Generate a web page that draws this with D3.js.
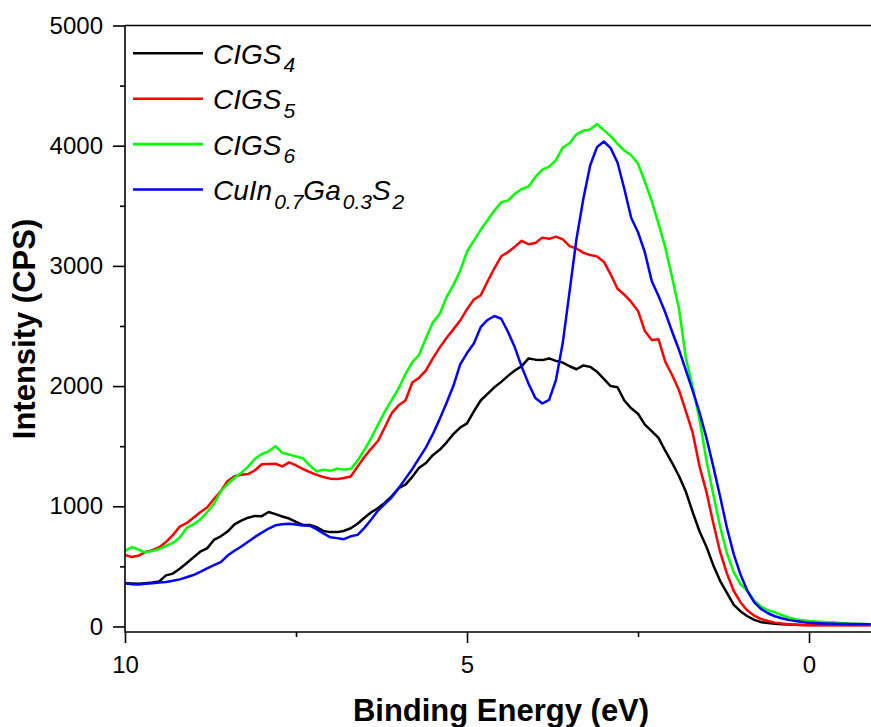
<!DOCTYPE html>
<html><head><meta charset="utf-8">
<script src="https://cdn.jsdelivr.net/npm/d3@7"></script>
<style>
body{margin:0;background:#fff}
svg{display:block}
text{font-family:"Liberation Sans",Arial,sans-serif;fill:#000}
</style>
</head><body>
<svg id="chart" width="871" height="727"></svg>
<script>
// ---- data ----
const energy = [
 10.0,9.9,9.8,9.7,9.6,9.5,9.4,9.3,9.2,9.1,
 9.0,8.9,8.8,8.7,8.6,8.5,8.4,8.3,8.2,8.1,
 8.0,7.9,7.8,7.7,7.6,7.5,7.4,7.3,7.2,7.1,
 7.0,6.9,6.8,6.7,6.6,6.5,6.4,6.3,6.2,6.1,
 6.0,5.9,5.8,5.7,5.6,5.5,5.4,5.3,5.2,5.1,
 5.0,4.9,4.8,4.7,4.6,4.5,4.4,4.3,4.2,4.1,
 4.0,3.9,3.8,3.7,3.6,3.5,3.4,3.3,3.2,3.1,
 3.0,2.9,2.8,2.7,2.6,2.5,2.4,2.3,2.2,2.1,
 2.0,1.9,1.8,1.7,1.6,1.5,1.4,1.3,1.2,1.1,
 1.0,0.9,0.8,0.7,0.6,0.5,0.4,0.3,0.2,0.1,
 0.0,-0.2,-0.4,-0.6,-0.9
];
const cigs4 = [
 360,358,356,360,365,375,425,440,480,526,
 575,622,650,720,750,790,850,880,905,920,
 918,952,935,915,898,870,845,845,826,795,
 785,785,795,817,855,905,950,985,1030,1085,
 1150,1180,1245,1320,1360,1425,1470,1530,1600,1655,
 1690,1790,1880,1935,1990,2035,2085,2130,2166,2230,
 2220,2216,2230,2210,2195,2165,2140,2172,2160,2120,
 2060,2000,1990,1880,1815,1770,1680,1625,1569,1460,
 1360,1250,1120,950,790,664,510,380,280,180,
 125,85,55,36,28,22,19,16,14,13,
 12,12,12,12,12
];
const cigs5 = [
 595,578,590,620,635,660,703,760,831,859,
 905,950,990,1060,1125,1210,1250,1263,1268,1300,
 1350,1352,1354,1332,1365,1340,1310,1285,1262,1243,
 1230,1226,1235,1248,1330,1410,1480,1545,1660,1775,
 1840,1880,2030,2070,2130,2230,2320,2400,2472,2545,
 2640,2720,2755,2870,2980,3080,3115,3160,3209,3180,
 3190,3235,3225,3243,3220,3165,3145,3110,3090,3079,
 3035,2930,2810,2760,2700,2625,2458,2383,2389,2200,
 2090,1965,1790,1610,1330,1120,860,620,440,295,
 200,132,90,62,45,32,24,18,15,12,
 11,10,10,10,10
];
const cigs6 = [
 628,660,640,617,628,645,670,695,740,820,
 850,890,950,1020,1123,1185,1235,1280,1330,1395,
 1435,1457,1500,1445,1430,1415,1400,1340,1290,1305,
 1295,1312,1305,1310,1380,1470,1570,1680,1790,1885,
 1980,2100,2200,2260,2400,2530,2600,2740,2840,2960,
 3120,3210,3300,3380,3460,3530,3545,3600,3640,3660,
 3740,3800,3825,3880,3985,4020,4095,4125,4135,4180,
 4130,4080,4015,3960,3920,3850,3700,3540,3350,3150,
 2900,2640,2230,1990,1720,1380,1100,830,609,450,
 350,295,215,165,135,118,95,75,60,52,
 45,38,30,24,19
];
const cuInGaS = [
 359,352,350,355,360,365,370,380,392,410,
 428,455,484,510,535,590,630,665,705,745,
 781,815,842,850,854,848,840,838,810,775,
 742,735,726,750,762,820,890,965,1020,1075,
 1150,1230,1310,1400,1490,1600,1725,1860,2000,2180,
 2275,2355,2490,2550,2583,2560,2450,2320,2160,2020,
 1900,1855,1885,2050,2360,2790,3223,3557,3835,3988,
 4035,3980,3860,3640,3400,3280,3112,2875,2750,2610,
 2450,2300,2130,1960,1780,1569,1332,1081,820,600,
 430,295,200,145,110,85,68,55,45,38,
 30,25,22,20,19
];
// legend labels as [text, role] pairs
const legendLabels = [
 [["CIGS",""],["4","sub"]],
 [["CIGS",""],["5","sub"]],
 [["CIGS",""],["6","sub"]],
 [["CuIn",""],["0.7","sub"],["Ga",""],["0.3","sub"],["S",""],["2","sub"]]
];
const seriesValues = [cigs4, cigs5, cigs6, cuInGaS];
const seriesColors = ["#000000","#ff0000","#00ff00","#0000ff"];
const xTickValues = [10,5,0];
const xMinorTicks = [7.5,2.5];
const yTickValues = [0,1000,2000,3000,4000,5000];
const yMinorTicks = [500,1500,2500,3500,4500];
const xTitle = "Binding Energy (eV)";
const yTitle = "Intensity (CPS)";

// ---- layout ----
const svg = d3.select("#chart");
const L = 125, R = 871, T = 25.5, B = 632;
const x = d3.scaleLinear().domain([10,-0.906]).range([L,R]);
const y = d3.scaleLinear().domain([-46,5000]).range([B,T]);

svg.append("defs").append("clipPath").attr("id","clip")
  .append("rect").attr("x",L).attr("y",0).attr("width",R-L).attr("height",B);

// lines
const gLines = svg.append("g").attr("clip-path","url(#clip)");
seriesValues.forEach((vals,i)=>{
  const pts = energy.map((e,j)=>[e,vals[j]]);
  gLines.append("path").datum(pts)
    .attr("fill","none").attr("stroke",seriesColors[i])
    .attr("stroke-width",2.5).attr("stroke-linejoin","round")
    .attr("d",d3.line().x(d=>x(d[0])).y(d=>y(d[1])));
});

// axes
const axW = 1.6;
const xAxis = svg.append("g").attr("transform",`translate(0,${B})`)
  .call(d3.axisBottom(x).tickValues(xTickValues).tickSize(11).tickSizeOuter(0).tickPadding(13).tickFormat(d3.format("d")));
const xMin = svg.append("g").attr("transform",`translate(0,${B})`)
  .call(d3.axisBottom(x).tickValues(xMinorTicks).tickSize(5).tickSizeOuter(0).tickFormat(""));
const yAxis = svg.append("g").attr("transform",`translate(${L},0)`)
  .call(d3.axisLeft(y).tickValues(yTickValues).tickSize(12).tickSizeOuter(0).tickPadding(10).tickFormat(d3.format("d")));
const yMin = svg.append("g").attr("transform",`translate(${L},0)`)
  .call(d3.axisLeft(y).tickValues(yMinorTicks).tickSize(5).tickSizeOuter(0).tickFormat(""));
[xAxis,xMin,yAxis,yMin].forEach(g=>{
  g.selectAll("path,line").attr("stroke","#000").attr("stroke-width",axW);
  g.selectAll("text").style("font-size","24px").attr("fill","#000");
});
xMin.select(".domain").remove();
yMin.select(".domain").remove();
yAxis.select(".domain").attr("d",`M0,${B+axW/2}V${T}`);
xAxis.select(".domain").attr("d",`M${L},0H${R}`);
// top frame
svg.append("line").attr("x1",L).attr("x2",R).attr("y1",T).attr("y2",T)
  .attr("stroke","#000").attr("stroke-width",axW);

// titles
svg.append("text").attr("x",501).attr("y",721).attr("text-anchor","middle")
  .style("font-size","31px").style("font-weight","bold").text(xTitle);
svg.append("text").attr("transform","translate(35,329) rotate(-90)").attr("text-anchor","middle")
  .style("font-size","31px").style("font-weight","bold").text(yTitle);

// legend
const legY0 = 53.3, legDy = 45.4, subShift = 8.5;
legendLabels.forEach((parts,i)=>{
  const yy = legY0 + i*legDy;
  svg.append("line").attr("x1",133).attr("x2",203).attr("y1",yy).attr("y2",yy)
    .attr("stroke",seriesColors[i]).attr("stroke-width",2.6);
  const t = svg.append("text").attr("x",213).attr("y",yy+10.5)
    .style("font-size","28px").style("font-style","italic");
  let shifted = false;
  parts.forEach(p=>{
    const ts = t.append("tspan").text(p[0]);
    if(p[1]==="sub"){
      ts.style("font-size","21px").attr("dx",2).attr("dy", shifted?0:subShift);
      shifted = true;
    } else {
      ts.attr("dy", shifted?-subShift:0);
      shifted = false;
    }
  });
});
</script>
</body></html>
